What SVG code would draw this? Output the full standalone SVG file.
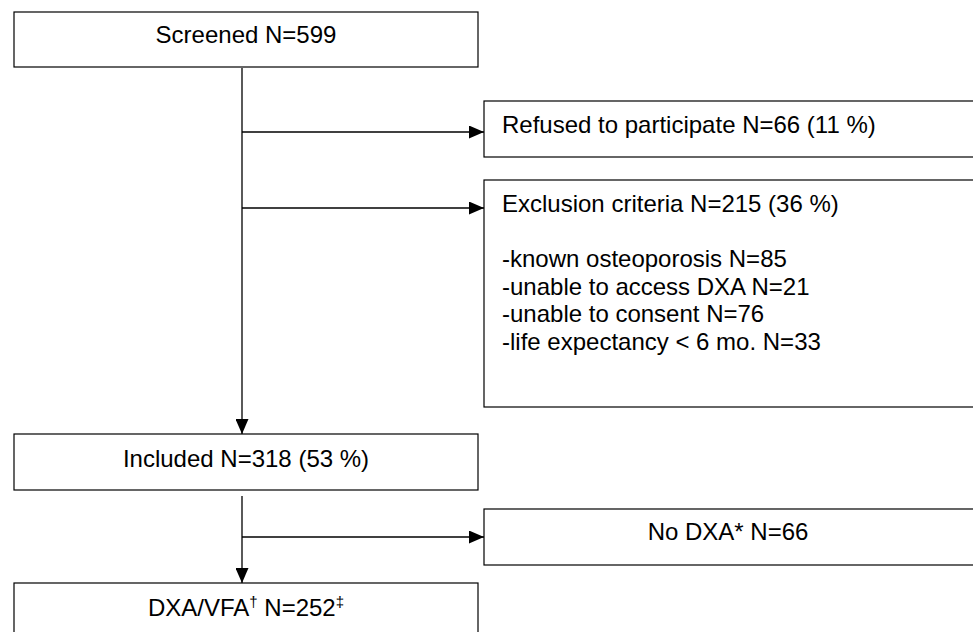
<svg xmlns="http://www.w3.org/2000/svg" width="973" height="632" viewBox="0 0 973 632">
<defs>
<marker id="ah" markerUnits="userSpaceOnUse" markerWidth="15" markerHeight="13" refX="15" refY="6.5" orient="auto">
<path d="M0,0 L15,6.5 L0,13 z" fill="#000"/>
</marker>
<style>
.box{fill:#fff;stroke:#000;stroke-width:1.2}
.t{font-family:"Liberation Sans",Arial,sans-serif;font-size:24px;fill:#000}
.c{text-anchor:middle}
.ln{stroke:#000;stroke-width:1.3;fill:none;marker-end:url(#ah)}
.sup{font-size:15px}
</style>
</defs>
<rect width="973" height="632" fill="#fff"/>
<g id="connectors">
<line class="ln" x1="242" y1="68" x2="242" y2="434"/>
<line class="ln" x1="242" y1="132" x2="484" y2="132"/>
<line class="ln" x1="242" y1="208" x2="484" y2="208"/>
<line class="ln" x1="242" y1="496" x2="242" y2="583"/>
<line class="ln" x1="242" y1="537" x2="484" y2="537"/>
</g>
<g id="screened">
<rect class="box" x="14" y="12" width="464" height="55"/>
<text class="t c" x="246" y="43">Screened N=599</text>
</g>
<g id="refused">
<rect class="box" x="484" y="101" width="500" height="56"/>
<text class="t" x="502" y="133">Refused to participate N=66 (11 %)</text>
</g>
<g id="exclusion">
<rect class="box" x="484" y="180" width="500" height="227"/>
<text class="t" x="502" y="212">Exclusion criteria N=215 (36 %)</text>
<text class="t" x="502" y="267">-known osteoporosis N=85</text>
<text class="t" x="502" y="295">-unable to access DXA N=21</text>
<text class="t" x="502" y="322">-unable to consent N=76</text>
<text class="t" x="502" y="350">-life expectancy &lt; 6 mo. N=33</text>
</g>
<g id="included">
<rect class="box" x="14" y="434" width="464" height="56"/>
<text class="t c" x="246" y="467">Included N=318 (53 %)</text>
</g>
<g id="nodxa">
<rect class="box" x="484" y="509" width="500" height="56"/>
<text class="t c" x="728" y="540">No DXA* N=66</text>
</g>
<g id="dxavfa">
<rect class="box" x="14" y="583" width="464" height="60"/>
<text class="t c" x="246" y="616">DXA/VFA<tspan class="sup" dy="-9">†</tspan><tspan dy="9"> N=252</tspan><tspan class="sup" dy="-9">‡</tspan></text>
</g>
</svg>
